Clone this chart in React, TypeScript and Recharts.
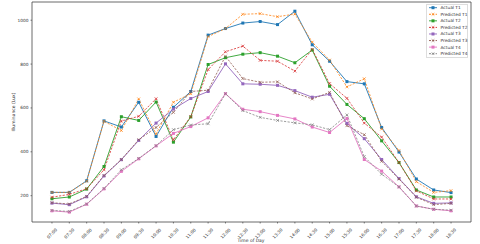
import { Legend, Line, LineChart, ReferenceArea, XAxis, YAxis } from "recharts";

const times = [
  "07:00", "07:30", "08:00", "08:30", "09:00", "09:30", "10:00", "10:30",
  "11:00", "11:30", "12:00", "12:30", "13:00", "13:30", "14:00", "14:30",
  "15:00", "15:30", "16:00", "16:30", "17:00", "17:30", "18:00", "18:30",
];

const actualT1 = [215, 215, 268, 541, 513, 626, 470, 603, 675, 932, 962, 987, 994, 980, 1041, 888, 813, 720, 710, 511, 399, 276, 226, 214];
const predictedT1 = [215, 215, 266, 539, 497, 641, 482, 626, 665, 925, 962, 1027, 1030, 1016, 1028, 900, 818, 696, 733, 504, 406, 264, 215, 223];
const actualT2 = [186, 194, 230, 333, 560, 543, 627, 444, 559, 798, 829, 845, 852, 836, 806, 864, 699, 616, 551, 450, 351, 226, 194, 194];
const predictedT2 = [193, 206, 232, 318, 540, 562, 642, 455, 560, 775, 856, 882, 817, 813, 768, 867, 711, 644, 531, 467, 351, 222, 185, 185];
const actualT3 = [166, 159, 195, 290, 364, 452, 531, 595, 643, 675, 801, 710, 708, 703, 679, 649, 662, 529, 460, 365, 278, 195, 165, 167];
const predictedT3 = [168, 162, 197, 292, 365, 455, 511, 580, 675, 681, 836, 734, 717, 719, 669, 641, 671, 519, 478, 357, 276, 193, 159, 165];
const actualT4 = [131, 125, 161, 231, 311, 368, 427, 484, 515, 555, 665, 594, 583, 566, 550, 513, 488, 552, 365, 312, 240, 153, 138, 131];
const predictedT4 = [133, 128, 162, 233, 318, 370, 428, 501, 522, 528, 665, 588, 557, 543, 532, 523, 501, 568, 378, 298, 240, 153, 138, 134];

const yTicks = [200, 400, 600, 800, 1000];

const data = times.map((time, i) => ({
  idx: i,
  time,
  a1: actualT1[i],
  p1: predictedT1[i],
  a2: actualT2[i],
  p2: predictedT2[i],
  a3: actualT3[i],
  p3: predictedT3[i],
  a4: actualT4[i],
  p4: predictedT4[i],
}));

const series = [
  { key: "a1", name: "Actual T1", color: "#1f77b4", dashed: false },
  { key: "p1", name: "Predicted T1", color: "#ff7f0e", dashed: true },
  { key: "a2", name: "Actual T2", color: "#2ca02c", dashed: false },
  { key: "p2", name: "Predicted T2", color: "#d62728", dashed: true },
  { key: "a3", name: "Actual T3", color: "#9467bd", dashed: false },
  { key: "p3", name: "Predicted T3", color: "#8c564b", dashed: true },
  { key: "a4", name: "Actual T4", color: "#e377c2", dashed: false },
  { key: "p4", name: "Predicted T4", color: "#7f7f7f", dashed: true },
];

const FONT = "DejaVu Sans, sans-serif";
const X_MIN = -1.15;
const X_MAX = 24.15;
const Y_MIN = 80;
const Y_MAX = 1083;

function squareDot(color: string) {
  return (props: any) => {
    const { cx, cy, index } = props;
    if (cx == null || cy == null) return <g key={index} />;
    return <rect key={index} x={cx - 1.5} y={cy - 1.5} width={3} height={3} fill={color} />;
  };
}

function crossDot(color: string) {
  return (props: any) => {
    const { cx, cy, index } = props;
    if (cx == null || cy == null) return <g key={index} />;
    const s = 1.4;
    return (
      <path
        key={index}
        d={`M${cx - s},${cy - s}L${cx + s},${cy + s}M${cx - s},${cy + s}L${cx + s},${cy - s}`}
        stroke={color}
        strokeWidth={0.7}
        fill="none"
      />
    );
  };
}

function TimeTick(props: any) {
  const { x, y, payload } = props;
  const label = times[payload.value] ?? "";
  return (
    <text
      x={x}
      y={y + 8}
      transform={`rotate(-45, ${x}, ${y + 8})`}
      textAnchor="middle"
      dominantBaseline="central"
      fontSize={4.3}
      fill="#333"
      fontFamily={FONT}
    >
      {label}
    </text>
  );
}

function LegendBox() {
  return (
    <div
      style={{
        position: "absolute",
        left: 426,
        top: 4,
        width: 42,
        height: 54,
        boxSizing: "border-box",
        border: "0.6px solid #ddd",
        background: "#fff",
        fontFamily: FONT,
        fontSize: 4.3,
        color: "#333",
      }}
    >
      <svg width={42} height={54} style={{ display: "block" }}>
        {series.map((s, i) => {
          const y = 2.7 + i * 6.57;
          return (
            <g key={s.key}>
              <line
                x1={2}
                x2={10}
                y1={y}
                y2={y}
                stroke={s.color}
                strokeWidth={0.9}
                strokeDasharray={s.dashed ? "2 1.3" : undefined}
              />
              {s.dashed ? (
                <path
                  d={`M${6 - 1.3},${y - 1.3}L${6 + 1.3},${y + 1.3}M${6 - 1.3},${y + 1.3}L${6 + 1.3},${y - 1.3}`}
                  stroke={s.color}
                  strokeWidth={0.7}
                />
              ) : (
                <rect x={4.5} y={y - 1.5} width={3} height={3} fill={s.color} />
              )}
              <text x={13.5} y={y} dominantBaseline="central" fontSize={4.3} fill="#333" fontFamily={FONT}>
                {s.name}
              </text>
            </g>
          );
        })}
      </svg>
    </div>
  );
}

export default function App() {
  return (
    <div style={{ position: "fixed", left: 0, top: 0, width: 480, height: 244, background: "#fff" }}>
      <LineChart width={480} height={244} data={data} margin={{ top: 2, right: 9, left: 0, bottom: 0 }}>
        <XAxis
          dataKey="idx"
          type="number"
          domain={[X_MIN, X_MAX]}
          ticks={times.map((_, i) => i)}
          interval={0}
          height={22}
          axisLine={false}
          tickLine={{ stroke: "#333", strokeWidth: 0.6 }}
          tickSize={1.5}
          tick={<TimeTick />}
          allowDataOverflow
        />
        <YAxis
          type="number"
          domain={[Y_MIN, Y_MAX]}
          ticks={yTicks}
          width={32}
          axisLine={false}
          tickLine={{ stroke: "#333", strokeWidth: 0.6 }}
          tickSize={1.5}
          tick={{ fontSize: 4.3, fill: "#333", fontFamily: FONT }}
          allowDataOverflow
        />
        <ReferenceArea
          x1={X_MIN}
          x2={X_MAX}
          y1={Y_MIN}
          y2={Y_MAX}
          fill="none"
          stroke="#444"
          strokeWidth={0.8}
          ifOverflow="visible"
        />
        {series.map((s) => (
          <Line
            key={s.key}
            dataKey={s.key}
            name={s.name}
            type="linear"
            stroke={s.color}
            strokeWidth={0.9}
            strokeOpacity={s.dashed ? 0.85 : 1}
            strokeDasharray={s.dashed ? "2.2 1.4" : undefined}
            dot={s.dashed ? crossDot(s.color) : squareDot(s.color)}
            activeDot={false}
            isAnimationActive={false}
          />
        ))}
        <Legend content={() => null} />
        <text
          x={13}
          y={112}
          transform="rotate(-90, 13, 112)"
          textAnchor="middle"
          dominantBaseline="central"
          fontSize={4.5}
          fill="#333"
          fontFamily={FONT}
        >
          Illuminance (Lux)
        </text>
        <text x={251} y={240.5} textAnchor="middle" dominantBaseline="central" fontSize={4.5} fill="#333" fontFamily={FONT}>
          Time of Day
        </text>
      </LineChart>
      <LegendBox />
    </div>
  );
}
